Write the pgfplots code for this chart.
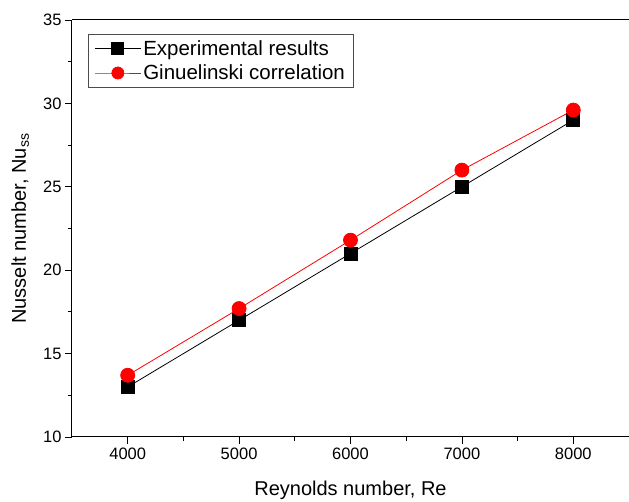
\documentclass[border=0pt]{standalone}
\usepackage{fontspec}
\setmainfont{Liberation Sans}
\usepackage{pgfplots}
\pgfplotsset{compat=1.18}
\begin{document}
\begin{tikzpicture}
\begin{axis}[name=ax, at={(0,0)}, anchor=south west,
  scale only axis, width=557pt, height=417pt,
  xmin=3500, xmax=8500, ymin=10, ymax=35,
  axis x line*=bottom, axis y line*=left,
  xtick={4000,5000,6000,7000,8000}, minor x tick num=1,
  ytick={10,15,20,25,30,35}, minor y tick num=1,
  tick align=outside, major tick length=7pt, minor tick length=4pt,
  tick style={black, line width=0.8pt},
  axis line style={line width=1pt},
  ticklabel style={font=\fontsize{16.5}{18}\selectfont},
  /pgf/number format/assume math mode=true,
  xticklabel style={/pgf/number format/1000 sep={}},
  xlabel={Reynolds number, Re},
  ylabel={Nusselt number, Nu\textsubscript{ss}},
  label style={font=\fontsize{20}{24}\selectfont},
  xlabel style={at={(axis description cs:0.5,-0.127)}, anchor=center},
  ylabel style={at={(axis description cs:-0.093,0.5)}, anchor=center},
  legend style={at={(axis description cs:0.029,0.966)}, anchor=north west,
    draw=black!70, line width=0.6pt, font=\fontsize{20.5}{24}\selectfont,
    inner xsep=6pt, inner ysep=4pt, row sep=4pt},
  legend cell align=left,
  legend image code/.code={%
    \draw[mark repeat=2, mark phase=2, mark size=6pt] plot coordinates {(0pt,0pt) (23pt,0pt) (46pt,0pt)};},
]
\addplot[black, line width=0.8pt, mark=square*, mark size=6.5pt, mark options={solid, fill=black}]
  coordinates {(4000,13) (5000,17) (6000,21) (7000,25) (8000,29)};
\addlegendentry{Experimental results}
\addplot[red, line width=0.8pt, mark=*, mark size=7pt, mark options={solid, fill=red, draw=red}]
  coordinates {(4000,13.7) (5000,17.7) (6000,21.8) (7000,26) (8000,29.6)};
\addlegendentry{Ginuelinski correlation}
\draw[line width=1pt] (rel axis cs:0,1) -- (rel axis cs:1,1);
\end{axis}
\pgfresetboundingbox
\path (-72pt,-65pt) rectangle (557pt,437pt);
\end{tikzpicture}
\end{document}
